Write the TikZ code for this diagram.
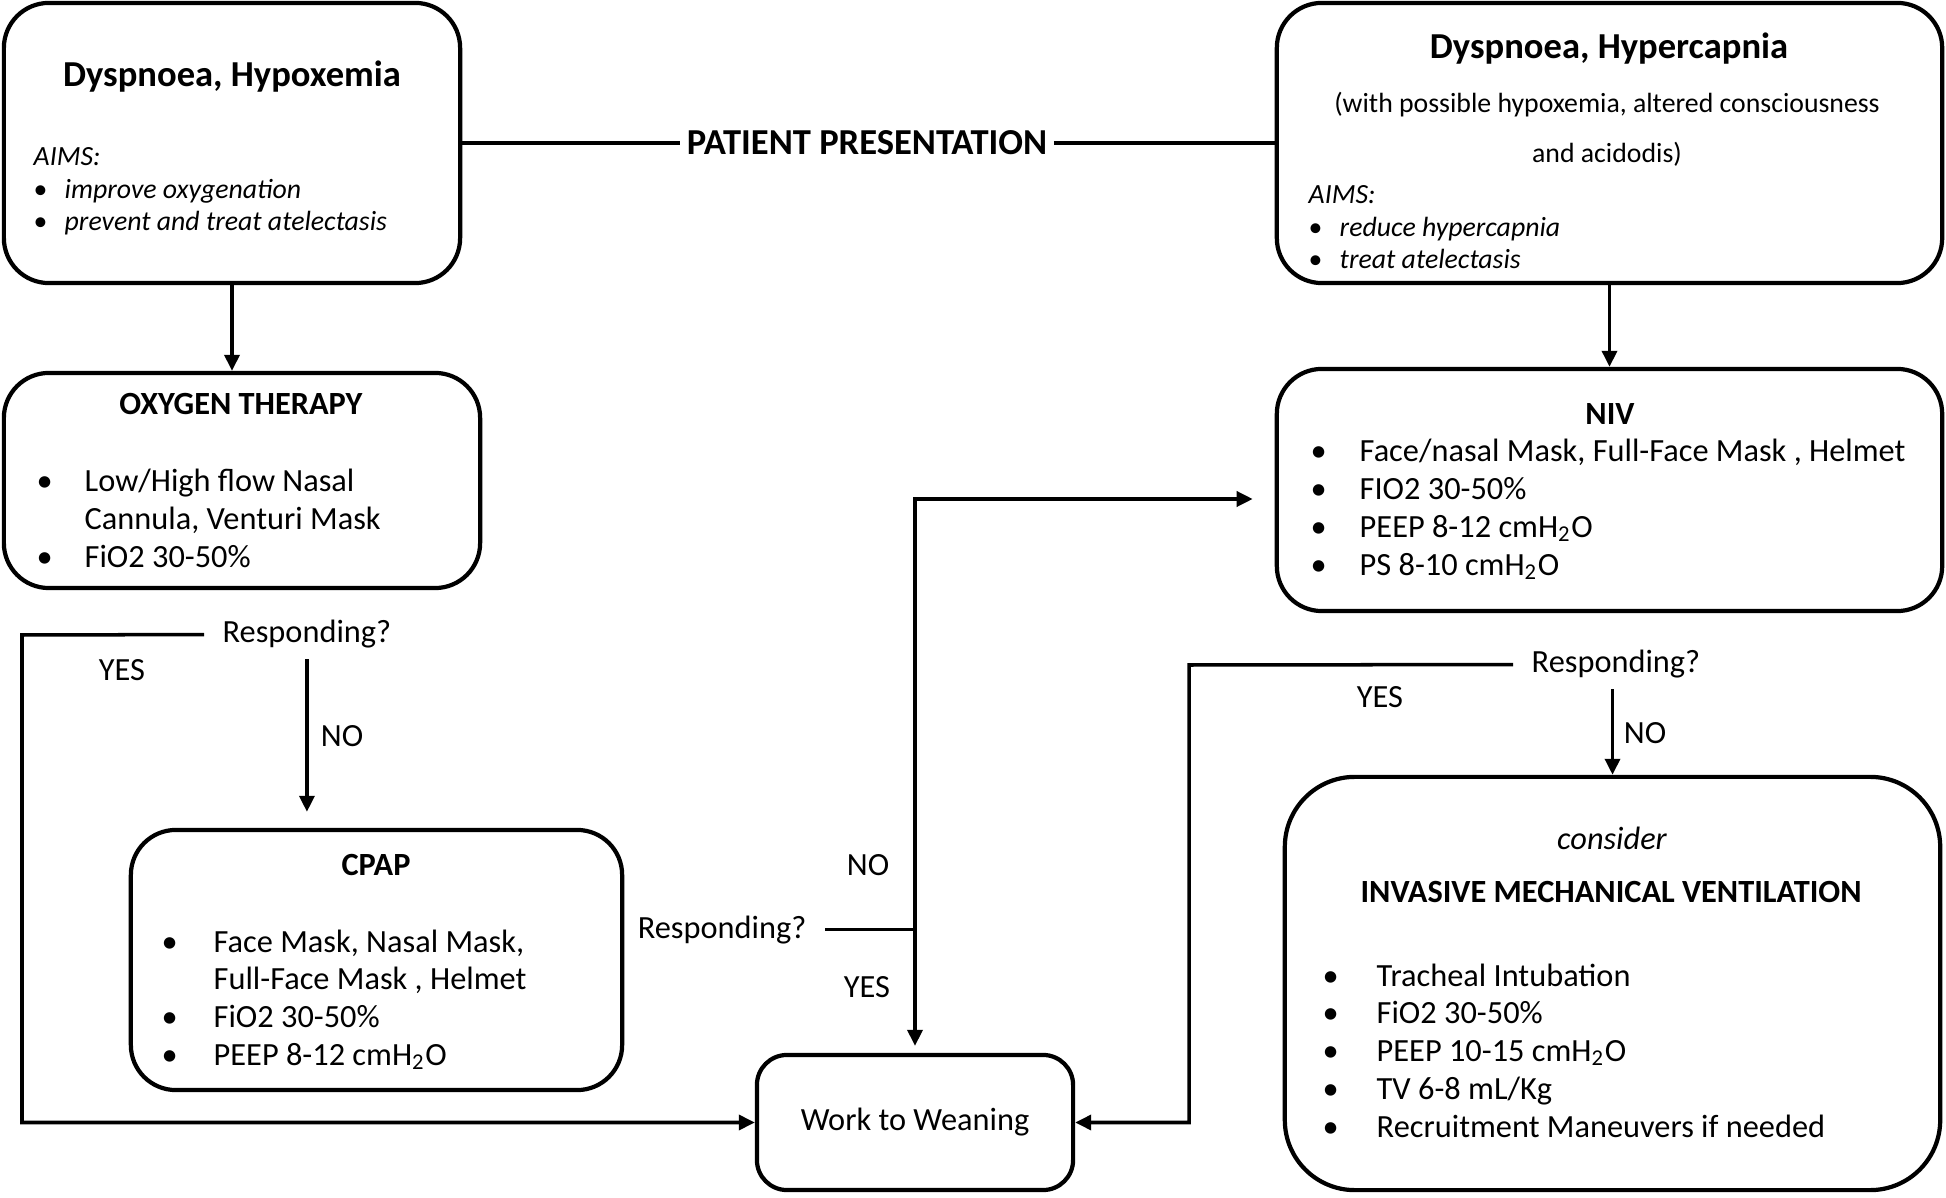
\documentclass[tikz,border=0pt]{standalone}
\usepackage{fontspec}
\setmainfont{Carlito}
\usepackage{tikz}
\usetikzlibrary{calc,arrows.meta}
\tikzset{
  box/.style={draw, line width=1.2pt, rounded corners=0.45cm, inner sep=0pt},
  conn/.style={line width=1pt},
  arr/.style={conn, -{Triangle[length=0.16cm,width=0.15cm]}},
  ttl/.style={font=\fontsize{10.4}{12}\selectfont\bfseries, inner sep=0pt, anchor=base},
  hd/.style={font=\fontsize{9.2}{11}\selectfont\bfseries, inner sep=0pt, anchor=base},
  sub/.style={font=\fontsize{7.9}{9.2}\selectfont, inner sep=0pt, anchor=base},
  txt/.style={font=\fontsize{9.2}{10.8}\selectfont, inner sep=0pt, anchor=base west},
  aim/.style={font=\fontsize{7.9}{9.2}\selectfont, inner sep=0pt, anchor=base west},
  resp/.style={font=\fontsize{9.2}{11}\selectfont, inner xsep=0.18cm, inner ysep=0.1cm},
  yn/.style={font=\fontsize{9.2}{11}\selectfont, inner sep=0pt},
}

\begin{document}
\begin{tikzpicture}[x=0.01cm, y=-0.01cm]
  \useasboundingbox (0,0) rectangle (1946,1198);

  % boxes
  \node[box, minimum width=4.56cm, minimum height=2.8cm]  (hypox)  at (232,143) {};
  \node[box, minimum width=6.65cm, minimum height=2.8cm]  (hyperc) at (1609.5,143) {};
  \node[box, minimum width=4.76cm, minimum height=2.15cm] (oxy)    at (242,480.5) {};
  \node[box, minimum width=6.65cm, minimum height=2.42cm] (niv)    at (1609.5,490) {};
  \node[box, minimum width=4.91cm, minimum height=2.6cm]  (cpap)   at (376.5,960) {};
  \node[box, rounded corners=0.3cm, minimum width=3.16cm, minimum height=1.35cm,
        font=\fontsize{9.2}{11}\selectfont] (work) at (915,1122.5) {\raisebox{-0.08cm}{Work to Weaning}};
  \node[box, rounded corners=0.7cm, minimum width=6.55cm, minimum height=4.13cm] (imv) at (1612.5,983.5) {};

  \node[ttl, anchor=center, inner xsep=0.06cm] (pp) at (867,143) {PATIENT PRESENTATION};

  % hypoxemia
  \node[ttl] (hypoxttl) at (232,87) {Dyspnoea, Hypoxemia};
  \node[aim] (hypoxaims) at (33,166) {\begin{tabular}[t]{@{}p{0.31cm}@{}l@{}}
    \multicolumn{2}{@{}l@{}}{\itshape AIMS:}\\
    \textbullet & \itshape improve oxygenation\\
    \textbullet & \itshape prevent and treat atelectasis
  \end{tabular}};

  % hypercapnia
  \node[ttl] (hypercttl) at (1609,59) {Dyspnoea, Hypercapnia};
  \node[sub] (hypercsub1) at (1607,113) {(with possible hypoxemia, altered consciousness};
  \node[sub] (hypercsub2) at (1607,163) {and acidodis)};
  \node[aim] (hypercaims) at (1308,204) {\begin{tabular}[t]{@{}p{0.31cm}@{}l@{}}
    \multicolumn{2}{@{}l@{}}{\itshape AIMS:}\\
    \textbullet & \itshape reduce hypercapnia\\
    \textbullet & \itshape treat atelectasis
  \end{tabular}};

  % oxygen therapy
  \node[hd] (oxyttl) at (241,415) {OXYGEN THERAPY};
  \node[txt] (oxylist) at (36,492) {\begin{tabular}[t]{@{}p{0.48cm}@{}l@{}}
    \textbullet & Low/High flow Nasal\\
                & Cannula, Venturi Mask\\
    \textbullet & FiO2 30-50\%
  \end{tabular}};

  % niv
  \node[hd] (nivttl) at (1610,425) {NIV};
  \node[txt] (nivlist) at (1310,462) {\begin{tabular}[t]{@{}p{0.49cm}@{}l@{}}
    \textbullet & Face/nasal Mask, Full-Face Mask , Helmet\\
    \textbullet & FIO2 30-50\%\\
    \textbullet & PEEP 8-12 cmH\textsubscript{2}O\\
    \textbullet & PS 8-10 cmH\textsubscript{2}O
  \end{tabular}};

  % cpap
  \node[hd] (cpapttl) at (376,875) {CPAP};
  \node[txt] (cpaplist) at (161,952) {\begin{tabular}[t]{@{}p{0.52cm}@{}l@{}}
    \textbullet & Face Mask, Nasal Mask,\\
                & Full-Face Mask , Helmet\\
    \textbullet & FiO2 30-50\%\\
    \textbullet & PEEP 8-12 cmH\textsubscript{2}O
  \end{tabular}};

  % invasive ventilation
  \node[hd, font=\fontsize{9.2}{11}\selectfont\itshape] (imvpre) at (1612,849) {consider};
  \node[hd] (imvttl) at (1611,902) {INVASIVE MECHANICAL VENTILATION};
  \node[txt] (imvlist) at (1322,986) {\begin{tabular}[t]{@{}p{0.54cm}@{}l@{}}
    \textbullet & Tracheal Intubation\\
    \textbullet & FiO2 30-50\%\\
    \textbullet & PEEP 10-15 cmH\textsubscript{2}O\\
    \textbullet & TV 6-8 mL/Kg\\
    \textbullet & Recruitment Maneuvers if needed
  \end{tabular}};

  % decisions
  \node[resp, anchor=base west] (resp1) at (204,643) {Responding?};
  \node[resp, anchor=base east] (resp2) at (825,938) {Responding?};
  \node[resp, anchor=base west] (resp3) at (1513,673) {Responding?};
  \node[yn] (yes1) at (122,670) {YES};
  \node[yn] (no1)  at (342,736) {NO};
  \node[yn] (no2)  at (868,865) {NO};
  \node[yn] (yes2) at (867,987) {YES};
  \node[yn] (yes3) at (1380,697) {YES};
  \node[yn] (no3)  at (1645,733) {NO};

  \coordinate (c1) at (22,635);
  \coordinate (c3) at (1189,665);
  \coordinate (j2) at (resp2.east -| work.north);

  % connectors
  \draw[conn] (hypox.east) -- (pp.west);
  \draw[conn] (pp.east) -- (hyperc.west);
  \draw[arr] (hypox.south) -- (hypox.south |- oxy.north);
  \draw[arr] (hyperc.south) -- (niv.north);
  \draw[arr] (resp1.west) -- (c1) |- (work.west);
  \draw[arr, shorten >=0.16cm] (resp1.south) -- (resp1.south |- cpap.north);
  \draw[conn] (resp2.east) -- (j2);
  \draw[arr, shorten >=0.22cm] (j2) |- ([yshift=-0.09cm]niv.west);
  \draw[arr, shorten >=0.07cm] (j2) -- (work.north);
  \draw[arr] (resp3.west) -- (c3) |- (work.east);
  \draw[arr] (resp3.south -| imv.north) -- (imv.north);
\end{tikzpicture}
\end{document}
